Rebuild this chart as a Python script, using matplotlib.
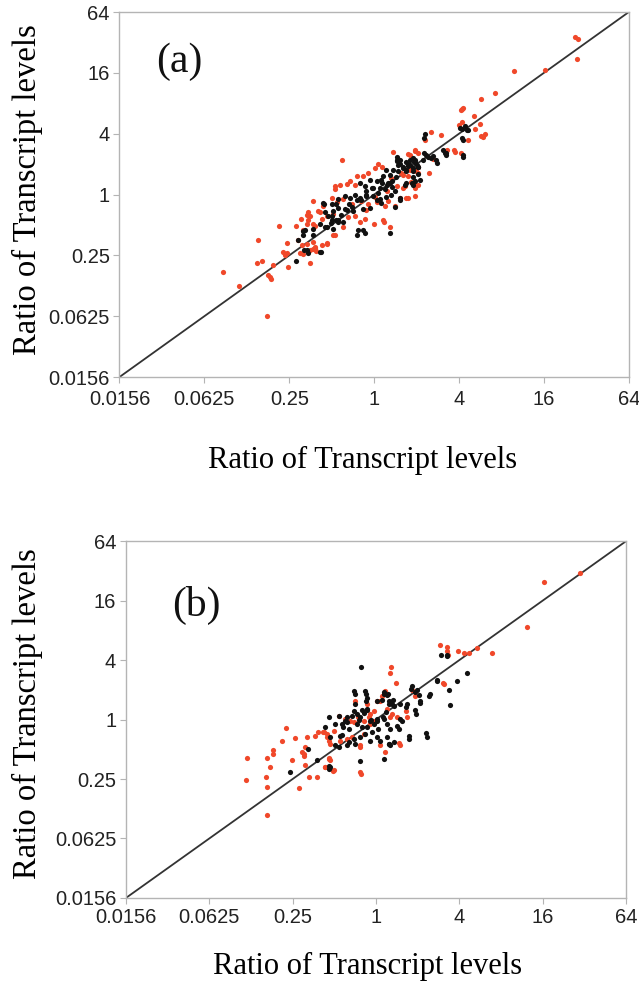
import numpy as np
import matplotlib
matplotlib.use("Agg")
import matplotlib.pyplot as plt

# values are log2 of the transcript ratios (x, y)
a_red = [(4.73, 5.18), (4.80, 5.10), (4.78, 4.47), (4.02, 4.09), (3.29, 4.06), (2.85, 3.35),
         (2.51, 3.15), (2.10, 2.85), (2.04, 2.78), (2.07, 2.82), (2.35, 2.57), (2.08, 2.38),
         (2.00, 2.30), (2.49, 2.32), (2.37, 2.16), (2.51, 1.94), (2.57, 1.88), (2.62, 1.98),
         (2.20, 1.80), (1.34, 2.06), (1.57, 1.95), (1.20, 1.80), (1.90, 1.40), (2.04, 1.38),
         (1.89, 1.47), (1.71, 1.48), (0.96, 1.46), (1.04, 1.35), (0.84, 1.30), (1.04, 0.89),
         (0.84, 0.81), (0.68, 0.65), (0.96, 0.33), (0.72, 0.27), (1.39, 1.17), (0.99, 0.79),
         (-0.75, 1.14), (0.80, 1.33), (0.96, 1.43), (0.02, 0.86), (0.18, 0.92), (0.64, 0.70),
         (0.80, 0.60), (1.04, 0.70), (-0.26, 0.60), (-0.14, 0.70), (-0.57, 0.44), (-0.45, 0.33),
         (-0.93, 0.27), (-0.81, 0.33), (0.53, 0.27), (0.68, 0.22), (0.80, -0.10), (0.61, -0.10),
         (0.49, -0.37), (0.33, -0.21), (-0.88, -0.26), (-0.73, -0.15), (-0.53, -0.32), (-0.30, -0.21),
         (-0.14, -0.32), (0.06, -0.26), (0.25, -0.37), (-1.20, -0.37), (-1.28, -0.59), (-1.12, -0.69),
         (-0.96, -0.64), (-0.61, -0.75), (-0.45, -0.69), (-0.34, -0.91), (-0.22, -0.80), (-0.01, -0.96),
         (0.20, -0.85), (0.37, -1.07), (-0.92, -1.34), (-0.73, -1.07), (-1.51, -0.69), (-1.44, -0.96),
         (-1.55, -0.59), (-1.32, -0.53), (-1.44, -0.21), (-1.44, -1.55), (-1.12, -1.61), (-0.96, -1.34),
         (-1.40, -1.77), (0.96, -0.05), (0.76, -0.10), (1.04, 0.33), (0.96, 0.22), (-1.59, -0.66),
         (-1.24, -0.80), (-1.55, -0.85), (-2.24, -1.05), (-1.84, -1.05), (-1.72, -0.80), (-1.59, -0.96),
         (-1.40, -1.02), (-1.67, -1.16), (-2.73, -1.48), (-2.06, -1.59), (-1.80, -1.50), (-1.69, -1.66),
         (-1.59, -1.61), (-1.51, -1.82), (-1.40, -1.72), (-1.24, -1.66), (-1.12, -1.59), (-1.67, -1.95),
         (-1.44, -1.80), (-1.36, -1.85), (-1.51, -2.25), (-1.75, -1.93), (-2.14, -1.88), (-2.06, -1.91),
         (-2.10, -1.98), (-2.38, -2.31), (-2.02, -2.38), (-2.77, -2.25), (-2.65, -2.17), (-3.56, -2.55),
         (-2.50, -2.63), (-2.46, -2.70), (-2.42, -2.77), (-3.19, -3.00), (-2.53, -4.00), (-0.92, 0.17),
         (-0.65, 0.35), (0.03, -0.08), (0.23, -0.90), (0.88, 0.40), (0.40, 0.55), (0.45, 1.40),
         (0.10, 1.00), (-0.40, 0.60), (-1.00, -0.10), (1.30, 0.70), (0.30, 0.10), (-0.20, -0.50)]

a_black = [(2.22, 2.13), (2.06, 2.15), (2.10, 1.80), (2.10, 1.23), (1.67, 1.37), (1.70, 1.30),
           (1.47, 1.04), (1.23, 1.30), (1.33, 1.19), (2.02, 2.18), (2.19, 2.13), (2.14, 2.24),
           (2.07, 1.85), (2.09, 1.30), (1.20, 2.00), (1.18, 1.86), (1.63, 1.46), (1.69, 1.37),
           (1.39, 1.26), (1.45, 1.12), (1.27, 1.24), (1.18, 1.38), (0.92, 1.19), (0.96, 1.08),
           (0.76, 1.08), (0.84, 0.97), (0.68, 0.86), (0.76, 0.76), (0.92, 0.78), (1.04, 0.67),
           (0.90, 0.38), (0.72, 0.33), (0.95, 1.07), (1.03, 0.90), (0.92, 0.30), (0.53, 1.22),
           (0.84, 1.14), (0.96, 1.15), (0.60, 1.00), (0.75, 0.80), (0.80, 1.00), (0.29, 0.81),
           (0.45, 0.81), (0.57, 0.76), (0.37, 0.65), (0.21, 0.62), (0.51, 0.57), (0.92, 0.86),
           (1.04, 0.90), (-0.10, 0.49), (0.06, 0.44), (0.18, 0.38), (0.33, 0.38), (0.41, 0.44),
           (-0.34, 0.38), (-0.22, 0.27), (-0.06, 0.22), (0.14, 0.22), (0.25, 0.17), (0.49, 0.11),
           (-0.69, -0.05), (-0.57, -0.10), (-0.45, 0.00), (-0.34, -0.10), (-0.18, -0.05), (-0.02, -0.05),
           (0.14, -0.15), (-1.00, -0.32), (-0.85, -0.43), (-0.69, -0.48), (-0.49, -0.53), (-0.26, -0.48),
           (-0.10, -0.43), (-1.16, -0.59), (-1.00, -0.69), (-0.85, -0.85), (-0.73, -0.91), (-0.38, -1.18),
           (-0.26, -1.16), (-1.28, -0.96), (-1.44, -1.12), (-1.63, -1.18), (-1.67, -1.34), (-1.20, -0.29),
           (-1.59, -1.82), (-1.28, -1.88), (0.61, -0.10), (0.96, 0.44), (1.08, 0.49), (0.55, 1.14),
           (0.60, 1.12), (0.79, 0.95), (-1.18, -0.30), (-0.91, -0.32), (-0.85, -0.15), (-0.96, -0.53),
           (-1.08, -0.69), (-1.67, -1.21), (-1.44, -1.32), (-1.16, -1.07), (-0.96, -1.12), (-1.00, -0.85),
           (-0.85, -0.91), (-1.79, -1.50), (-1.65, -1.82), (-1.57, -1.93), (-1.25, -1.88), (-1.83, -2.20),
           (0.30, 0.30), (0.10, 0.05), (-0.20, 0.10), (0.40, 0.00), (-0.60, -0.30), (0.53, 1.10),
           (0.57, 0.97), (0.37, 0.37), (0.41, 0.24), (0.17, 0.48), (-0.02, 0.20), (-0.18, -0.02),
           (-0.30, -0.18), (-0.41, -0.18), (-0.53, -0.40), (-0.65, -0.51), (-0.77, -0.67), (-0.90, -0.84),
           (-1.01, -0.95), (-1.12, -1.06), (-0.41, -1.33), (-0.22, -1.28), (0.38, -1.28), (0.06, -0.18),
           (0.17, -0.29), (0.29, -0.07), (0.76, 0.37), (0.92, 0.59), (0.61, -0.18), (0.49, -0.40),
           (0.68, 0.91), (1.00, 0.97), (1.16, 1.13)]

b_red = [(4.90, 4.94), (4.02, 4.62), (3.63, 3.10), (2.78, 2.23), (2.43, 2.42), (2.24, 2.25),
         (2.10, 2.24), (1.96, 2.31), (1.70, 2.44), (1.71, 2.30), (1.73, 2.18), (1.53, 2.49),
         (1.64, 1.21), (0.35, 1.75), (0.34, 1.56), (0.47, 1.23), (1.61, 1.23), (0.72, 0.29),
         (0.87, 1.00), (0.93, 0.80), (0.75, 0.10), (0.14, 0.78), (0.22, 0.95), (0.02, 0.62),
         (0.10, 0.62), (-0.50, 0.63), (0.26, 0.34), (0.38, 0.18), (0.50, 0.09), (0.54, -0.80),
         (0.58, -0.87), (0.34, 0.09), (-0.90, 0.12), (-0.74, 0.01), (-0.62, -0.04), (-0.54, -0.10),
         (-0.43, 0.07), (-0.30, -0.04), (-0.18, 0.07), (-0.14, 0.18), (-0.06, 0.29), (-0.22, 0.51),
         (-1.02, -0.37), (-1.18, -0.49), (-1.27, -0.43), (-0.86, -0.71), (-0.70, -0.65), (-0.58, -0.60),
         (-0.38, -0.87), (-0.38, -0.93), (-0.30, -0.49), (-0.14, -0.16), (-1.12, -1.32), (-1.22, -1.59),
         (-1.02, -1.70), (-0.38, -1.76), (-0.37, -1.83), (0.22, -1.09), (0.10, -0.87), (-0.06, -0.04),
         (-3.09, -1.29), (-3.12, -2.05), (-2.61, -1.31), (-2.46, -1.04), (-2.48, -1.17), (-2.54, -1.61),
         (-2.64, -1.92), (-2.62, -2.28), (-2.61, -3.20), (-2.16, -0.28), (-2.26, -0.73), (-1.94, -0.63),
         (-2.02, -1.37), (-1.84, -2.31), (-1.70, -0.93), (-1.78, -1.09), (-1.74, -1.17), (-1.73, -1.24),
         (-1.66, -0.60), (-1.46, -0.57), (-1.40, -0.41), (-1.70, -1.53), (-1.62, -1.92), (-1.41, -1.92),
         (-1.26, -0.43), (-1.18, -0.60), (-1.12, -0.71), (-1.10, -0.82), (-1.14, -1.31), (-1.10, -1.37),
         (-1.22, -1.61), (-1.04, -1.72)]

b_black = [(1.55, 2.17), (1.69, 2.12), (1.70, 2.16), (2.17, 1.55), (1.93, 1.28), (1.75, 0.98),
           (1.78, 0.48), (1.47, 1.30), (1.28, 0.80), (1.06, 0.55), (1.21, -0.59), (0.80, -0.65),
           (0.93, 0.93), (0.97, 0.20), (0.84, 1.01), (0.72, 0.42), (-0.37, 1.75), (1.46, 1.34),
           (1.30, 0.86), (1.06, 0.62), (0.94, 0.31), (0.78, -0.54), (1.20, -0.46), (0.86, 1.12),
           (0.98, 1.00), (1.02, 0.84), (-0.51, 0.85), (-0.24, 0.85), (-0.25, 0.62), (-0.51, 0.51),
           (-0.33, 0.31), (-0.21, 0.31), (-0.42, -0.01), (-0.13, -0.03), (0.03, 0.03), (0.19, 0.87),
           (0.28, 0.85), (0.40, 0.67), (0.32, 0.53), (0.03, 0.62), (0.16, 0.08), (0.23, 0.25),
           (-0.53, 0.95), (-0.26, 0.95), (-0.22, 0.71), (0.18, 0.93), (0.26, 0.84), (0.14, 0.67),
           (0.30, 0.62), (0.38, 0.51), (0.43, 0.45), (0.58, 0.51), (0.74, 0.51), (0.58, 0.01),
           (0.62, -0.04), (0.50, -0.21), (0.54, -0.32), (0.34, -0.32), (0.26, -0.16), (0.18, 0.01),
           (0.02, -0.04), (-0.06, -0.16), (0.05, -0.32), (-0.10, -0.43), (0.02, -0.60), (-0.14, -0.71),
           (0.10, -0.71), (0.26, -0.60), (0.30, -0.82), (0.34, -0.87), (0.42, -0.76), (-0.22, 0.34),
           (-0.30, 0.23), (-0.38, 0.07), (-0.46, 0.18), (-0.54, 0.29), (-0.58, 0.12), (-0.70, -0.10),
           (-0.79, -0.26), (-0.66, -0.32), (-0.46, -0.16), (-0.34, -0.26), (-0.22, -0.26), (-0.14, -0.04),
           (-0.26, -0.49), (-0.38, -0.60), (-0.54, -0.65), (-0.50, -0.82), (-0.66, -0.76), (-0.86, -0.54),
           (-0.98, -0.87), (-1.10, -0.60), (-1.22, -0.26), (-1.10, -1.59), (-1.14, -1.65), (-0.38, -1.39),
           (0.18, -1.33), (0.30, -0.84), (-2.06, -1.75), (-1.63, -1.00), (-1.41, -1.35), (-1.14, -1.55),
           (-1.12, 0.07), (-0.98, -0.16), (-0.82, -0.16), (-0.90, 0.12), (-0.70, 0.07), (-0.74, -0.04),
           (-0.82, -0.51), (-0.70, -0.87), (-0.90, -0.93)]

tick_exp = [-6, -4, -2, 0, 2, 4, 6]
tick_labels = ['0.0156', '0.0625', '0.25', '1', '4', '16', '64']
panel_names = ['(a)', '(b)']
axis_title = 'Ratio of Transcript levels'

red = '#f0482a'
black = '#111111'
frame = '#b4b4b4'

fig = plt.figure(figsize=(6.39, 9.88), dpi=100)
ax_a = fig.add_axes([0.187, 0.6184, 0.797, 0.3694])
ax_b = fig.add_axes([0.197, 0.0911, 0.783, 0.3613])

# (axes, reds, blacks, x tick pad, panel label position)
panels = [(ax_a, a_red, a_black, 5, (0.072, 0.835)),
          (ax_b, b_red, b_black, 3, (0.092, 0.79))]
for i, (ax, reds, blacks, xpad, lpos) in enumerate(panels):
    r = np.power(2.0, np.array(reds))
    k = np.power(2.0, np.array(blacks))
    lo, hi = 2.0 ** -6, 2.0 ** 6
    ax.plot([lo, hi], [lo, hi], color='#333333', lw=1.3, zorder=1)
    ax.scatter(r[:, 0], r[:, 1], s=14, color=red, linewidths=0, zorder=2)
    ax.scatter(k[:, 0], k[:, 1], s=14, color=black, linewidths=0, zorder=3)
    ax.set_xscale('log', base=2)
    ax.set_yscale('log', base=2)
    ax.set_xlim(lo, hi)
    ax.set_ylim(lo, hi)
    ticks = [2.0 ** e for e in tick_exp]
    ax.set_xticks(ticks)
    ax.set_xticklabels(tick_labels)
    ax.set_yticks(ticks)
    ax.set_yticklabels(tick_labels)
    ax.minorticks_off()
    for lab in ax.get_xticklabels() + ax.get_yticklabels():
        lab.set_family('Liberation Sans')
        lab.set_fontsize(14.5)
        lab.set_color('#222222')
    ax.tick_params(axis='x', length=4, color=frame, pad=xpad)
    ax.tick_params(axis='y', length=4, color=frame, pad=3)
    for sp in ax.spines.values():
        sp.set_color(frame)
        sp.set_linewidth(1)
    ax.text(lpos[0], lpos[1], panel_names[i], transform=ax.transAxes,
            family='Liberation Serif', fontsize=30, color='#111111')

# axis titles
fig.text(0.568, 1 - 460 / 988, axis_title, ha='center', va='center',
         family='Liberation Serif', fontsize=22)
fig.text(0.043, 1 - 190 / 988, axis_title, ha='center', va='center', rotation=90,
         family='Liberation Serif', fontsize=23.5)
fig.text(0.575, 1 - 966 / 988, axis_title, ha='center', va='center',
         family='Liberation Serif', fontsize=22)
fig.text(0.043, 1 - 714 / 988, axis_title, ha='center', va='center', rotation=90,
         family='Liberation Serif', fontsize=23.5)

fig.savefig('out.png', dpi=100)
